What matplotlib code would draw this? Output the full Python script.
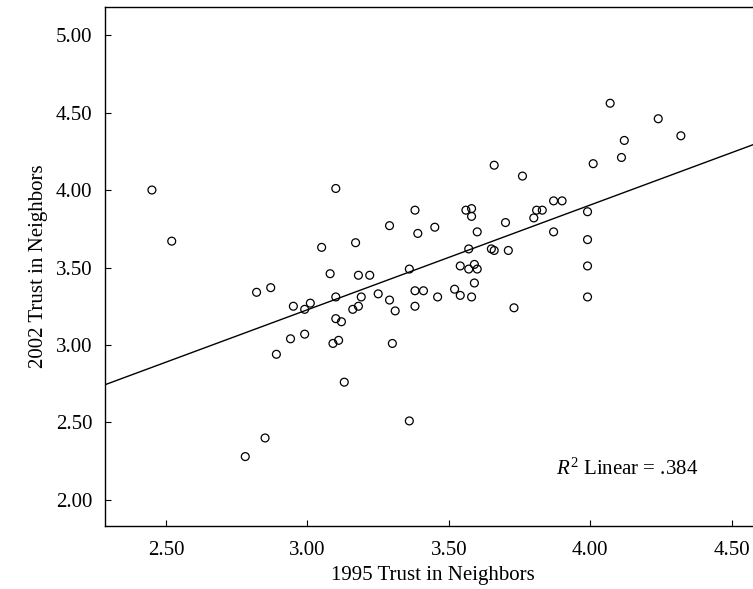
import numpy as np
import matplotlib
matplotlib.use("Agg")
import matplotlib.pyplot as plt

# trust scores (one pair per place)
trust_1995 = [2.45, 2.52, 3.10, 3.05, 3.08, 2.82, 2.87, 2.95, 3.01, 2.99,
              3.10, 3.10, 3.12, 2.94, 2.99, 2.89, 3.09, 3.11, 2.85, 2.78,
              3.30, 3.13, 3.36, 3.76, 3.38, 3.56, 3.58, 3.58, 3.29, 3.45,
              3.39, 3.60, 3.70, 3.80, 3.81, 3.83, 3.17, 3.57, 3.65, 3.66,
              3.71, 3.36, 3.54, 3.57, 3.59, 3.60, 3.18, 3.22, 3.59, 3.19,
              3.25, 3.29, 3.38, 3.41, 3.52, 3.54, 3.46, 3.58, 3.18, 3.16,
              3.31, 3.38, 3.73, 4.07, 4.24, 4.32, 4.12, 4.11, 4.01, 3.87,
              3.90, 3.87, 3.99, 3.99, 3.99, 3.99, 3.66]
trust_2002 = [4.00, 3.67, 4.01, 3.63, 3.46, 3.34, 3.37, 3.25, 3.27, 3.23,
              3.31, 3.17, 3.15, 3.04, 3.07, 2.94, 3.01, 3.03, 2.40, 2.28,
              3.01, 2.76, 2.51, 4.09, 3.87, 3.87, 3.88, 3.83, 3.77, 3.76,
              3.72, 3.73, 3.79, 3.82, 3.87, 3.87, 3.66, 3.62, 3.62, 3.61,
              3.61, 3.49, 3.51, 3.49, 3.52, 3.49, 3.45, 3.45, 3.40, 3.31,
              3.33, 3.29, 3.35, 3.35, 3.36, 3.32, 3.31, 3.31, 3.25, 3.23,
              3.22, 3.25, 3.24, 4.56, 4.46, 4.35, 4.32, 4.21, 4.17, 3.93,
              3.93, 3.73, 3.86, 3.68, 3.51, 3.31, 4.16]

x_ticks = [2.5, 3.0, 3.5, 4.0, 4.5]
y_ticks = [2.0, 2.5, 3.0, 3.5, 4.0, 4.5, 5.0]
r2_label = r"$R^2$ Linear = .384"

plt.rcParams["font.family"] = ["Liberation Serif", "DejaVu Serif"]
plt.rcParams["mathtext.fontset"] = "custom"
plt.rcParams["mathtext.rm"] = "Liberation Serif"
plt.rcParams["mathtext.it"] = "Liberation Serif:italic"

fig = plt.figure(figsize=(7.53, 5.89), dpi=100)
# right edge of the frame runs past the picture, as in the scan
ax = fig.add_axes([0.1394, 0.1075, 0.870, 0.8806])

x = np.array(trust_1995)
y = np.array(trust_2002)
ax.scatter(x, y, s=32, facecolors="none", edgecolors="black", linewidths=0.9, zorder=3)

# least squares line over the whole x range
xlo, xhi = 2.284, 4.60
slope, icept = np.polyfit(x, y, 1)
xs = np.array([xlo, xhi])
ax.plot(xs, icept + slope * xs, color="black", lw=1.0, zorder=2)

ax.set_xlim(xlo, xhi)
ax.set_ylim(1.834, 5.181)
ax.set_xticks(x_ticks)
ax.set_yticks(y_ticks)
ax.set_xticklabels([f"{t:.2f}" for t in x_ticks])
ax.set_yticklabels([f"{t:.2f}" for t in y_ticks])
ax.tick_params(direction="in", length=4, width=0.8, labelsize=15)
ax.tick_params(axis="x", pad=11)
ax.tick_params(axis="y", pad=9)
for side in ["left", "bottom", "top"]:
    ax.spines[side].set_linewidth(1.0)
ax.spines["right"].set_visible(False)

ax.set_xlabel("1995 Trust in Neighbors", fontsize=15, labelpad=4)
ax.set_ylabel("2002 Trust in Neighbors", fontsize=15, labelpad=6)

ax.text(3.88, 2.20, r2_label, fontsize=15, ha="left", va="center")

fig.savefig("out.png", dpi=100)
